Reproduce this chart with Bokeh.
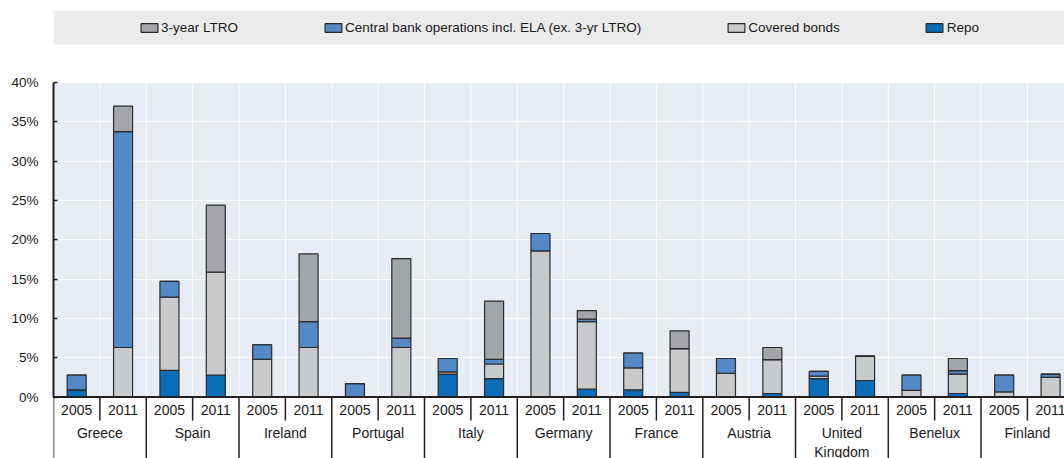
from bokeh.plotting import figure
from bokeh.models import (Range1d, FixedTicker, PrintfTickFormatter, BoxAnnotation,
                          ColumnDataSource, Legend, LegendItem, Span)
from bokeh.core.properties import value
from bokeh.embed import file_html
from bokeh.resources import INLINE

# ---------------- data ----------------
countries = ["Greece", "Spain", "Ireland", "Portugal", "Italy", "Germany",
             "France", "Austria", "United Kingdom", "Benelux", "Finland"]
years = ["2005", "2011"]

# order: Greece 2005, Greece 2011, Spain 2005, Spain 2011, ...
repo = [0.9, 0.0, 3.4, 2.8, 0.0, 0.0, 0.0, 0.0, 2.9, 2.35, 0.0,
        1.0, 0.9, 0.6, 0.0, 0.45, 2.35, 2.1, 0.0, 0.45, 0.0, 0.0]
covered_bonds = [0.0, 6.3, 9.3, 13.1, 4.8, 6.3, 0.0, 6.3, 0.3, 1.85, 18.6,
                 8.6, 2.8, 5.55, 3.0, 4.3, 0.3, 3.1, 0.85, 2.45, 0.65, 2.5]
cb_operations = [1.9, 27.45, 2.0, 0.0, 1.85, 3.3, 1.7, 1.2, 1.7, 0.6, 2.2,
                 0.3, 1.9, 0.0, 1.9, 0.0, 0.6, 0.0, 1.95, 0.45, 2.15, 0.4]
ltro_3y = [0.0, 3.25, 0.0, 8.5, 0.0, 8.6, 0.0, 10.1, 0.0, 7.4, 0.0,
           1.1, 0.0, 2.25, 0.0, 1.55, 0.0, 0.0, 0.0, 1.55, 0.0, 0.0]

series_names = ["Repo", "Covered bonds",
                "Central bank operations incl. ELA (ex. 3-yr LTRO)", "3-year LTRO"]
y_ticks = [0, 5, 10, 15, 20, 25, 30, 35, 40]

# ---------------- styles ----------------
colors = ["#0B6DB7", "#C9CACC", "#5389C6", "#A4A5A8"]
FONT = "Liberation Sans"
TXT = "#1a1a1a"
DARK = "#231F20"

cats = [(c, y) for c in countries for y in years]
n = len(cats)
xs = [i + 0.5 for i in range(n)]

p = figure(width=1064, height=458,
           x_range=Range1d(0, 21.80), y_range=Range1d(-7.82, 49.16),
           output_backend="svg", toolbar_location=None, x_axis_location=None,
           min_border_left=53, min_border_right=0, min_border_top=10, min_border_bottom=0)
p.outline_line_color = None
p.background_fill_color = "white"
p.border_fill_color = "white"

# plot background and legend band
p.add_layout(BoxAnnotation(bottom=0, top=y_ticks[-1], fill_color="#E8ECF4", fill_alpha=1,
                           line_color=None, level="image"))
p.add_layout(BoxAnnotation(bottom=44.83, fill_color="#EBEBEB", fill_alpha=1,
                           line_color=None, level="image"))

# grid
p.ygrid.ticker = FixedTicker(ticks=y_ticks)
p.ygrid.grid_line_color = "white"
p.ygrid.grid_line_width = 1
p.xgrid.grid_line_color = None

# vertical white gridlines at category boundaries
bounds = list(range(1, n))
p.segment(x0=bounds, y0=[0] * len(bounds), x1=bounds, y1=[y_ticks[-1]] * len(bounds),
          line_color="white", line_width=1)

# y axis
ax = p.yaxis[0]
ax.ticker = FixedTicker(ticks=y_ticks)
ax.formatter = PrintfTickFormatter(format="%d%%")
ax.bounds = (0, y_ticks[-1])
ax.axis_line_width = 2
ax.axis_line_color = DARK
ax.major_tick_in = 4
ax.major_tick_out = 0
ax.major_tick_line_color = DARK
ax.major_tick_line_width = 1.5
ax.minor_tick_line_color = None
ax.major_label_standoff = 15
ax.major_label_text_font = FONT
ax.major_label_text_font_size = "13.5px"
ax.major_label_text_color = TXT

# bars
source = ColumnDataSource(dict(x=xs, repo=repo, covered=covered_bonds,
                               cb=cb_operations, ltro=ltro_3y))
rs = p.vbar_stack(["repo", "covered", "cb", "ltro"], x="x", width=0.41, source=source,
                  fill_color=colors, line_color="#2B2B2B", line_width=1.2)

# zero line
p.add_layout(Span(location=0, dimension="width", line_color=DARK, line_width=2))

# category separators below axis
year_b = [i for i in range(0, n + 1) if i % 2 == 1]
grp_b = [i for i in range(0, n + 1) if i % 2 == 0]
p.segment(x0=year_b, y0=[0] * len(year_b), x1=year_b, y1=[-2.99] * len(year_b),
          line_color=DARK, line_width=1.5)
p.segment(x0=grp_b, y0=[0] * len(grp_b), x1=grp_b, y1=[-9] * len(grp_b),
          line_color=DARK, line_width=1.5)

# year labels
p.text(x=xs, y=[-1.68] * n, text=[y for _, y in cats], text_align="center",
       text_baseline="middle", text_font=value(FONT), text_font_size="14px",
       text_color=TXT)

# group labels (wrap long names onto two lines)
gx = [2 * i + 1 for i in range(len(countries))]
line1, line2 = [], []
for c in countries:
    if len(c) > 10 and " " in c:
        a, b = c.split(" ", 1)
    else:
        a, b = c, ""
    line1.append(a)
    line2.append(b)
p.text(x=gx, y=[-4.64] * len(gx), text=line1, text_align="center",
       text_baseline="middle", text_font=value(FONT), text_font_size="14px",
       text_color=TXT)
p.text(x=gx, y=[-6.93] * len(gx), text=line2, text_align="center",
       text_baseline="middle", text_font=value(FONT), text_font_size="14px",
       text_color=TXT)

# legend
items = [LegendItem(label=series_names[i], renderers=[rs[i]]) for i in [3, 2, 1, 0]]
legend = Legend(items=items, orientation="horizontal", location="top_center",
                spacing=84, glyph_width=21, glyph_height=11, label_standoff=2,
                label_height=11, padding=0, margin=10,
                background_fill_alpha=0, border_line_color=None,
                label_text_font=FONT, label_text_font_size="13.5px",
                label_text_color=TXT)
p.add_layout(legend)

open("out.html", "w").write(file_html(p, INLINE))
